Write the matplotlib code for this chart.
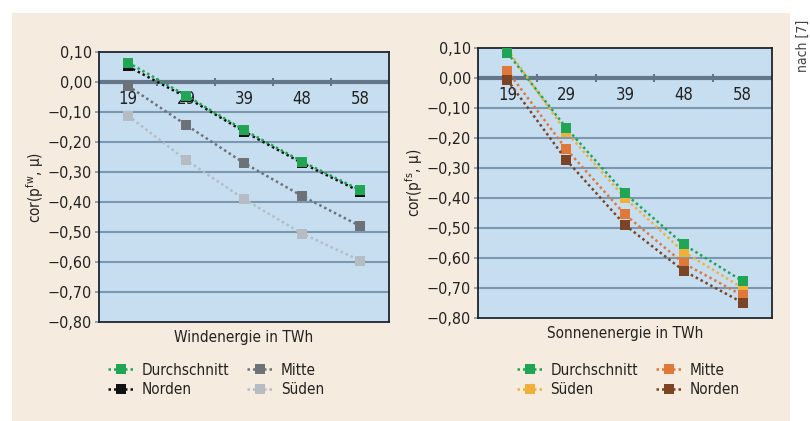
import matplotlib
matplotlib.use("Agg")
import matplotlib.pyplot as plt
from matplotlib.patches import Rectangle

plt.rcParams['font.family'] = ['DejaVu Sans']
plt.rcParams['font.stretch'] = 'condensed'
plt.rcParams['mathtext.default'] = 'regular'

# data
years = ['19', '29', '39', '48', '58']

wind_durchschnitt = [0.065, -0.045, -0.16, -0.265, -0.36]
wind_norden = [0.052, -0.05, -0.165, -0.27, -0.365]
wind_mitte = [-0.013, -0.143, -0.27, -0.38, -0.48]
wind_sueden = [-0.112, -0.26, -0.39, -0.505, -0.595]

sonne_durchschnitt = [0.084, -0.166, -0.385, -0.555, -0.677]
sonne_sueden = [0.095, -0.18, -0.40, -0.58, -0.70]
sonne_mitte = [0.024, -0.237, -0.455, -0.618, -0.725]
sonne_norden = [-0.007, -0.273, -0.49, -0.643, -0.749]

yticks = [0.1, 0.0, -0.1, -0.2, -0.3, -0.4, -0.5, -0.6, -0.7, -0.8]

W, H = 810, 421
BEIGE = '#f5ebde'
PLOTBG = '#c6def0'
GRID = '#7b98ae'
ZERO = '#64778a'
TXT = '#222222'
FS = 11


def fmt(v):
    s = '%.2f' % abs(v)
    s = s.replace('.', ',')
    return ('\u2212' + s) if v < -1e-9 else s


def make_axes(fig, x0, y0, x1, y1):
    ax = fig.add_axes([x0 / W, 1 - y1 / H, (x1 - x0) / W, (y1 - y0) / H])
    ax.set_facecolor(PLOTBG)
    ax.set_xlim(-0.5, len(years) - 0.5)
    ax.set_ylim(-0.8, 0.1)
    for v in yticks:
        if abs(v) < 1e-9:
            ax.axhline(v, color=ZERO, lw=3, zorder=1)
        elif v > -0.79 and v < 0.09:
            ax.axhline(v, color=GRID, lw=1.5, zorder=1)
    ax.set_yticks(yticks)
    ax.set_yticklabels([fmt(v) for v in yticks], fontsize=11.5, color=TXT)
    ax.tick_params(axis='y', length=3, width=1.2, color=GRID, pad=2)
    ax.set_xticks([])
    # small marks on the zero line between categories
    ax.plot([i + 0.5 for i in range(len(years) - 1)], [0] * (len(years) - 1),
            ls='none', marker='|', ms=6, mew=1.5, color=ZERO, zorder=1)
    for i, lab in enumerate(years):
        ax.annotate(lab, (i, 0), xytext=(0, -6), textcoords='offset points',
                    ha='center', va='top', fontsize=12, color=TXT, zorder=2)
    for s in ax.spines.values():
        s.set_color('#1c2530')
        s.set_linewidth(1.3)
    return ax


def series(ax, vals, color, label, z):
    ax.plot(range(len(years)), vals, ls=(0, (1, 1.2)), lw=1.8, color=color,
            marker='s', ms=7.5, mew=0, label=label, zorder=z)


def legend(handles, labels, x, y):
    fig.legend(handles, labels, ncol=2, frameon=False,
               loc='upper left', bbox_to_anchor=(x / W, 1 - y / H), borderpad=0,
               fontsize=FS, handlelength=1.7, handletextpad=0.5,
               columnspacing=1.2, labelspacing=0.3, labelcolor=TXT)


fig = plt.figure(figsize=(W / 100, H / 100), dpi=100)
fig.patch.set_facecolor('white')
fig.patches.append(Rectangle((12 / W, 0), (790 - 12) / W, 1 - 13 / H,
                             transform=fig.transFigure, facecolor=BEIGE,
                             edgecolor='none', zorder=-5))

# Windenergie
ax1 = make_axes(fig, 99, 52, 389, 322)
series(ax1, wind_sueden, '#b5bcc4', 'Süden', 3)
series(ax1, wind_mitte, '#6d7279', 'Mitte', 4)
series(ax1, wind_norden, '#111111', 'Norden', 5)
series(ax1, wind_durchschnitt, '#1fa553', 'Durchschnitt', 6)
ax1.set_ylabel('cor(p$^{fw}$, μ)', fontsize=FS, labelpad=1, color=TXT)
ax1.set_xlabel('Windenergie in TWh', fontsize=FS, labelpad=6, color=TXT)
h, l = ax1.get_legend_handles_labels()
order = [l.index(n) for n in ['Durchschnitt', 'Norden', 'Mitte', 'Süden']]
legend([h[i] for i in order], [l[i] for i in order], 100, 355)

# Sonnenenergie
ax2 = make_axes(fig, 478, 48, 772, 318)
series(ax2, sonne_sueden, '#f0b13a', 'Süden', 3)
series(ax2, sonne_mitte, '#e0783a', 'Mitte', 4)
series(ax2, sonne_norden, '#7b4424', 'Norden', 5)
series(ax2, sonne_durchschnitt, '#1fa553', 'Durchschnitt', 6)
ax2.set_ylabel('cor(p$^{fs}$, μ)', fontsize=FS, labelpad=1, color=TXT)
ax2.set_xlabel('Sonnenenergie in TWh', fontsize=FS, labelpad=6, color=TXT)
h, l = ax2.get_legend_handles_labels()
order = [l.index(n) for n in ['Durchschnitt', 'Süden', 'Mitte', 'Norden']]
legend([h[i] for i in order], [l[i] for i in order], 509, 355)

fig.text(803 / W, 1 - 20 / H, 'nach [7]', rotation=90, ha='center', va='top',
         fontsize=10, color='#444444')

fig.savefig('out.png', dpi=100, facecolor=fig.get_facecolor())
